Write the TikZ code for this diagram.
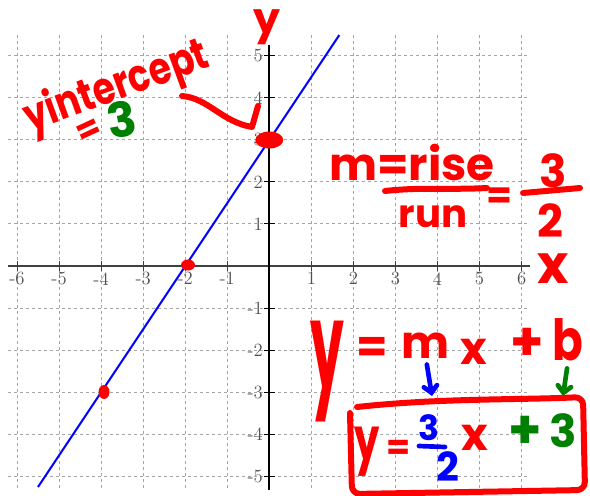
\documentclass[tikz,border=0pt]{standalone}
\usepackage{fontspec}
\newfontfamily\handfont{Poppins}
\usetikzlibrary{shapes.geometric,arrows.meta}
\newcommand\penfont[1]{\handfont\bfseries\fontsize{#1}{#1}\selectfont}
\def\ox{269.3}
\def\oy{266}
\def\un{42.05}

\tikzset{every picture/.style={line width=0.75pt}}
\tikzset{
  gridline/.style={color={rgb, 255:red, 165; green, 165; blue, 165 }, dash pattern={on 2.25pt off 2.25pt}},
  ticklabel/.style={text={rgb, 255:red, 80; green, 80; blue, 80 }, font=\fontsize{14}{14}\selectfont, inner sep=0.75pt},
  reddot/.style={ellipse, fill=red, inner sep=0pt},
  ink/.style={inner sep=0pt},
  pen/.style={line width=4.5pt, line cap=round, line join=round},
  penarrow/.style={pen, line width=3.5pt, -{Straight Barb[length=5pt, width=10pt, line cap=round]}}
}

\begin{document}
\begin{tikzpicture}[x=0.75pt,y=0.75pt,yscale=-1,xscale=1]
\useasboundingbox (0,0) rectangle (590,496);

%Grid Lines
\foreach \i in {-6,...,-1,1,2,...,6}
  \draw [gridline] ({\ox+\un*\i},35) -- ({\ox+\un*\i},490) ;
\foreach \j in {-5,...,-1,1,2,...,5}
  \draw [gridline] (8,{\oy-\un*\j}) -- (528,{\oy-\un*\j}) ;

%Axes
\draw [color={rgb, 255:red, 64; green, 64; blue, 64 }, line width=1.5] (8,\oy) -- (530,\oy) ;
\draw [line width=1.5] (\ox,45) -- (\ox,490) ;
\foreach \i in {-6,...,-1,1,2,...,6} {
  \draw [color={rgb, 255:red, 64; green, 64; blue, 64 }] ({\ox+\un*\i},{\oy-5}) -- ({\ox+\un*\i},{\oy+5}) ;
  % Text Node
  \node [ticklabel, anchor=north] (xl\i) at ({\ox+\un*\i},{\oy+5}) {\i};
}
\foreach \j in {-5,...,-1,1,2,...,5} {
  \draw ({\ox-5},{\oy-\un*\j}) -- ({\ox+6},{\oy-\un*\j}) ;
  % Text Node
  \node [ticklabel, anchor=east] (yl\j) at ({\ox-5},{\oy-\un*\j}) {\j};
}

%Straight Lines: y = 3/2 x + 3
\draw [color={rgb, 255:red, 0; green, 0; blue, 255 }, line width=1.5] (38,487) -- (339.3,35) ;

%Shape: Ellipse (points)
\node [reddot, minimum width=21pt, minimum height=12.75pt] (dotb) at (269.3,140) {};
\node [reddot, minimum width=10.5pt, minimum height=8.25pt] (dotxa) at (188,265) {};
\node [reddot, minimum width=8.25pt, minimum height=10.5pt] (dotp) at (104,392) {};

% Text Node: axis names
\node [ink, text=red, font=\penfont{32}] (yname) at (267,27) {y};
\node [ink, text=red, font=\penfont{40}] (xname) at (553,269) {x};

% Text Node: y intercept
\node [ink, text=red, font=\penfont{27}, rotate=20, yscale=1.25] (yint) at (117,88) {yintercept};
\node [ink, text=red, font=\penfont{26}, rotate=25] (yinteq) at (89,132) {=};
\node [ink, text={rgb, 255:red, 0; green, 128; blue, 0 }, font=\penfont{36}, rotate=10] (yintval) at (122,119) {3};

%Curve Lines: arrow to the intercept
\coordinate (hookA) at (182,96);
\coordinate (hookB) at (252,127);
\coordinate (hookC) at (258,106);
\draw [pen, color=red] (hookA) .. controls (208,98) and (222,122) .. (hookB) -- (hookC) ;

% Text Node: slope
\node [ink, text=red, font=\penfont{34}, anchor=base] (mrise) at (412,180) {m=rise};
\node [ink, text=red, font=\penfont{29}, anchor=base] (mrun) at (433,227) {run};
\draw [pen, color=red] (385,191) .. controls (420,187) and (450,190) .. (487,188) ;
\node [ink, text=red, font=\penfont{28}] (mrisedeq) at (499,198) {=};
\node [ink, text=red, font=\penfont{34}] (mnum) at (553,171) {3};
\draw [pen, color=red] (523,193) -- (580,188) ;
\node [ink, text=red, font=\penfont{34}] (mden) at (550,221) {2};

% Text Node: slope-intercept form
\node [ink, text=red, font=\penfont{40}, yscale=2.3] (eqy) at (327,372) {y};
\node [ink, text=red, font=\penfont{34}] (eqeq) at (372,350) {=};
\node [ink, text=red, font=\penfont{34}] (eqm) at (426,346) {m};
\node [ink, text=red, font=\penfont{34}] (eqx) at (474,352) {x};
\node [ink, text=red, font=\penfont{40}] (eqplus) at (527,344) {+};
\node [ink, text=red, font=\penfont{34}, yscale=1.25] (eqb) at (568,340) {b};

\coordinate (mtip) at (432,396);
\coordinate (btip) at (563,396);
\draw [penarrow, color={rgb, 255:red, 0; green, 0; blue, 255 }, shorten <=4pt] (eqm.south) -- (mtip) ;
\draw [penarrow, color={rgb, 255:red, 0; green, 128; blue, 0 }, shorten <=5pt] (eqb.south) -- (btip) ;

%Shape: Box round the answer
\draw [pen, color=red, rounded corners=6] (357,407) .. controls (440,398) and (520,400) .. (583,397) -- (585,490) -- (352,494) -- (350,413) ;

% Text Node: answer
\node [ink, text=red, font=\penfont{30}, yscale=1.5] (ansy) at (367,452) {y};
\node [ink, text=red, font=\penfont{26}] (anseq) at (399,450) {=};
\node [ink, text={rgb, 255:red, 0; green, 0; blue, 255 }, font=\penfont{26}] (ansnum) at (429,428) {3};
\draw [line width=3.5pt, line cap=round, color={rgb, 255:red, 0; green, 0; blue, 255 }] (419,446) -- (445,447) ;
\node [ink, text={rgb, 255:red, 0; green, 0; blue, 255 }, font=\penfont{30}] (ansden) at (448,467) {2};
\node [ink, text=red, font=\penfont{34}] (ansx) at (475,438) {x};
\node [ink, text={rgb, 255:red, 0; green, 128; blue, 0 }, font=\penfont{40}] (ansplus) at (525,432) {+};
\node [ink, text={rgb, 255:red, 0; green, 128; blue, 0 }, font=\penfont{34}] (ansb) at (563,431) {3};

\end{tikzpicture}
\end{document}
